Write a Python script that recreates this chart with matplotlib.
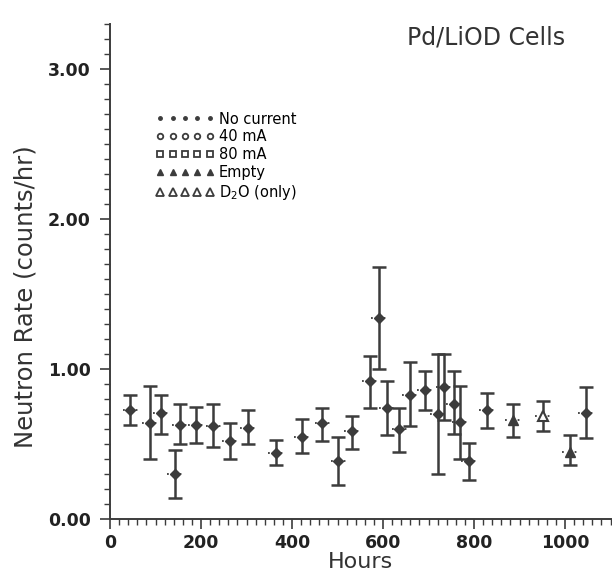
import matplotlib
matplotlib.use("Agg")
import matplotlib.pyplot as plt
import numpy as np
from matplotlib.lines import Line2D
from matplotlib.ticker import MultipleLocator, FixedLocator

# =========================
# 数据
# =========================
hours = [45, 88, 111, 143, 154, 188, 227, 264, 303, 364, 421, 467, 502, 532,
         571, 591, 608, 636, 659, 692, 720, 733, 755, 769, 788, 828, 886, 951,
         1010, 1046]
rate = [0.73, 0.64, 0.71, 0.30, 0.63, 0.63, 0.62, 0.52, 0.61, 0.44, 0.55, 0.64,
        0.39, 0.59, 0.92, 1.34, 0.74, 0.60, 0.83, 0.86, 0.70, 0.88, 0.77, 0.65,
        0.39, 0.73, 0.66, 0.69, 0.45, 0.71]
upper = [0.83, 0.89, 0.83, 0.46, 0.77, 0.75, 0.77, 0.64, 0.73, 0.53, 0.67, 0.74,
         0.55, 0.69, 1.09, 1.68, 0.92, 0.74, 1.05, 0.99, 1.10, 1.10, 0.99, 0.89,
         0.51, 0.84, 0.77, 0.79, 0.56, 0.88]
lower = [0.63, 0.40, 0.57, 0.14, 0.50, 0.51, 0.48, 0.40, 0.50, 0.36, 0.44, 0.52,
         0.23, 0.47, 0.74, 1.00, 0.56, 0.45, 0.62, 0.73, 0.30, 0.66, 0.57, 0.40,
         0.26, 0.61, 0.55, 0.59, 0.36, 0.54]
# 点的类型：D=填充菱形, ^=Empty, t=D2O
kinds = ["D"] * 26 + ["^", "t", "^", "D"]

legend_labels = ["No current", "40 mA", "80 mA", "Empty", r"D$_2$O (only)"]

INK = "#3c3c3c"
FONT = ["DejaVu Sans"]

plt.rcParams["font.family"] = FONT

fig = plt.figure(figsize=(6.12, 5.73), dpi=100)
ax = fig.add_axes([110 / 612, 54 / 573, 500.5 / 612, 495 / 573])

hours_a = np.array(hours, dtype=float)
rate_a = np.array(rate)
yerr = np.vstack([rate_a - np.array(lower), np.array(upper) - rate_a])

# 误差棒
ax.errorbar(hours_a, rate_a, yerr=yerr, fmt="none", ecolor=INK,
            elinewidth=1.8, capsize=5, capthick=1.8, zorder=3)

# 点两侧的虚线段
half = 17
ax.hlines(rate_a, hours_a - half, hours_a + half, colors=INK,
          linestyles=(0, (1, 2.5)), linewidth=1.3, zorder=2)

for h, r, k in zip(hours, rate, kinds):
    if k == "D":
        ax.plot(h, r, marker="D", ms=5, color=INK, zorder=4)
    elif k == "^":
        ax.plot(h, r, marker="^", ms=6.5, color=INK, zorder=4)
    else:
        ax.plot(h, r, marker="^", ms=7, mfc="white", mec=INK, mew=1.5, zorder=4)

# 轴
ax.set_xlim(0, 1100)
ax.set_ylim(0, 3.3)
ax.spines["top"].set_visible(False)
ax.spines["right"].set_visible(False)
for s in ["left", "bottom"]:
    ax.spines[s].set_color(INK)
    ax.spines[s].set_linewidth(1.4)

ax.xaxis.set_major_locator(FixedLocator([0, 200, 400, 600, 800, 1000]))
ax.xaxis.set_minor_locator(MultipleLocator(20))
ax.yaxis.set_major_locator(FixedLocator([0, 1, 2, 3]))
ax.yaxis.set_minor_locator(MultipleLocator(0.1))
ax.set_yticklabels(["0.00", "1.00", "2.00", "3.00"])
ax.tick_params(axis="both", which="major", length=7, width=1.2, color=INK,
               labelsize=12.5, labelcolor="#222222")
ax.tick_params(axis="y", which="major", pad=7)
ax.tick_params(axis="both", which="minor", length=4, width=1.0, color=INK)
for lab in ax.get_yticklabels() + ax.get_xticklabels():
    lab.set_fontweight("bold")

ax.set_xlabel("Hours", fontsize=16, color="#333333", labelpad=0)
ax.set_ylabel("Neutron Rate (counts/hr)", fontsize=17.5, color="#333333")
ax.yaxis.set_label_coords(-0.145, 0.45)

fig.text(0.795, 0.935, "Pd/LiOD Cells", fontsize=17, color="#333333",
         ha="center", va="center")

# 图例
handles = [
    Line2D([], [], ls="none", marker=".", ms=5, color=INK),
    Line2D([], [], ls="none", marker="o", ms=4, mfc="white", mec=INK, mew=1.3),
    Line2D([], [], ls="none", marker="s", ms=4, mfc="white", mec=INK, mew=1.3),
    Line2D([], [], ls="none", marker="^", ms=5, color=INK),
    Line2D([], [], ls="none", marker="^", ms=5.5, mfc="white", mec=INK, mew=1.3),
]
ax.legend(handles, legend_labels, loc="upper left", bbox_to_anchor=(0.08, 0.835),
          numpoints=5, handlelength=4.0, handletextpad=0.3, labelspacing=0.2,
          frameon=False, fontsize=10.5, borderaxespad=0)

fig.savefig("out.png", dpi=100, facecolor="white")
